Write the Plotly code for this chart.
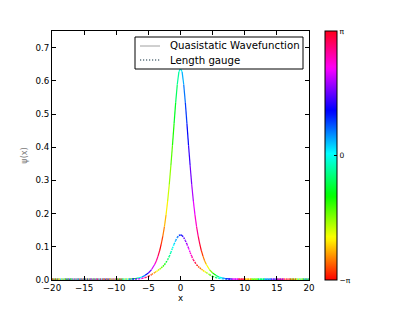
import numpy as np
import plotly.graph_objects as go

# ---- data ----
x_vals = [-20, -19, -18, -17, -16, -15, -14, -13, -12, -11, -10, -9,
          -8, -7.5, -7, -6.5, -6, -5.5, -5, -4.5,
          -4, -3.75, -3.5, -3.25, -3, -2.75, -2.5, -2.25, -2, -1.75, -1.5, -1.25, -1, -0.75, -0.5, -0.25,
          0,
          0.25, 0.5, 0.75, 1, 1.25, 1.5, 1.75, 2, 2.25, 2.5, 2.75, 3, 3.25, 3.5, 3.75, 4,
          4.5, 5, 5.5, 6, 6.5, 7, 7.5, 8,
          9, 10, 11, 12, 13, 14, 15, 16, 17, 18, 19, 20]

quasistatic_amp = [0.0025, 0.0025, 0.0025, 0.0025, 0.0025, 0.0025, 0.0025, 0.0025, 0.0025, 0.0025, 0.0025, 0.0025,
                   0.003, 0.0035, 0.0045, 0.0062, 0.0092, 0.014, 0.021, 0.0315,
                   0.0475, 0.058, 0.072, 0.088, 0.108, 0.132, 0.161, 0.196, 0.238, 0.287, 0.344, 0.406, 0.471, 0.535, 0.589, 0.627,
                   0.637,
                   0.627, 0.589, 0.535, 0.471, 0.406, 0.344, 0.287, 0.238, 0.196, 0.161, 0.132, 0.108, 0.088, 0.072, 0.058, 0.0475,
                   0.0315, 0.021, 0.014, 0.0092, 0.0062, 0.0045, 0.0035, 0.003,
                   0.0025, 0.0025, 0.0025, 0.0025, 0.0025, 0.0025, 0.0025, 0.0025, 0.0025, 0.0025, 0.0025, 0.0025]

quasistatic_phase = [-1.150, -0.150, 0.850, 1.850, 2.850, -2.434, -1.434, -0.434, 0.566, 1.566, 2.566, -2.717,
                     -1.717, -1.217, -0.717, -0.217, 0.283, 0.783, 1.283, 1.783,
                     2.283, 2.533, 2.783, 3.033, -3.0, -2.75, -2.5, -2.25, -2.0, -1.75, -1.5, -1.25, -1.0, -0.75, -0.5, -0.25,
                     0.0,
                     0.25, 0.5, 0.75, 1.0, 1.25, 1.5, 1.75, 2.0, 2.25, 2.5, 2.75, 3.0, -3.033, -2.783, -2.533, -2.283,
                     -1.783, -1.283, -0.783, -0.283, 0.217, 0.717, 1.217, 1.717,
                     2.717, -2.566, -1.566, -0.566, 0.434, 1.434, 2.434, -2.850, -1.850, -0.850, 0.150, 1.150]

length_gauge_amp = [0.0025, 0.0025, 0.0025, 0.0025, 0.0025, 0.0025, 0.0025, 0.0025, 0.0025, 0.0025, 0.0025, 0.0025,
                    0.0026, 0.0028, 0.003, 0.0035, 0.0048, 0.0072, 0.011, 0.0165,
                    0.0225, 0.0255, 0.029, 0.0325, 0.0365, 0.041, 0.046, 0.053, 0.061, 0.071, 0.083, 0.096, 0.108, 0.119, 0.128, 0.134,
                    0.136,
                    0.134, 0.128, 0.119, 0.108, 0.096, 0.083, 0.071, 0.061, 0.053, 0.046, 0.041, 0.0365, 0.0325, 0.029, 0.0255, 0.0225,
                    0.0165, 0.011, 0.0072, 0.0048, 0.0035, 0.003, 0.0028, 0.0026,
                    0.0025, 0.0025, 0.0025, 0.0025, 0.0025, 0.0025, 0.0025, 0.0025, 0.0025, 0.0025, 0.0025, 0.0025]

length_gauge_phase = [2.850, -2.584, -1.734, -0.884, -0.034, 0.816, 1.666, 2.516, -2.917, -2.067, -1.217, -0.367,
                      0.483, 0.908, 1.333, 1.758, 2.183, 2.608, 3.033, -2.825,
                      -2.4, -2.1875, -1.975, -1.7625, -1.55, -1.3375, -1.125, -0.9125, -0.7, -0.4875, -0.275, -0.0625, 0.15, 0.3625, 0.575, 0.7875,
                      1.0,
                      1.2125, 1.425, 1.6375, 1.85, 2.0625, 2.275, 2.4875, 2.7, 2.9125, 3.125, -2.946, -2.733, -2.521, -2.308, -2.096, -1.883,
                      -1.458, -1.033, -0.608, -0.183, 0.242, 0.667, 1.092, 1.517,
                      2.367, -3.066, -2.216, -1.366, -0.516, 0.334, 1.184, 2.034, 2.884, -2.55, -1.70, -0.85]

x_ticks = [-20, -15, -10, -5, 0, 5, 10, 15, 20]
y_ticks = [0.0, 0.1, 0.2, 0.3, 0.4, 0.5, 0.6, 0.7]
legend_labels = ["Quasistatic Wavefunction", "Length gauge"]
cbar_ticktext = ["\u2212\u03c0", "0", "\u03c0"]

# ---- matplotlib 'hsv' colormap anchors ----
HSV_POS = [0.0, 0.158730, 0.174603, 0.333333, 0.349206, 0.507937, 0.666667, 0.682540, 0.841270, 0.857143, 1.0]
HSV_RGB = [(255, 0, 0), (255, 239, 0), (247, 255, 0), (8, 255, 0), (0, 255, 16), (0, 255, 255),
           (0, 16, 255), (0, 0, 255), (239, 0, 255), (255, 0, 239), (255, 0, 24)]
colorscale = [[p, "rgb(%d,%d,%d)" % c] for p, c in zip(HSV_POS, HSV_RGB)]


def phase_color(ph):
    v = (ph + np.pi) / (2 * np.pi)
    v = min(max(v, 0.0), 1.0)
    r = np.interp(v, HSV_POS, [c[0] for c in HSV_RGB])
    g = np.interp(v, HSV_POS, [c[1] for c in HSV_RGB])
    b = np.interp(v, HSV_POS, [c[2] for c in HSV_RGB])
    return "rgb(%d,%d,%d)" % (round(r), round(g), round(b))


def mid_phase(a, b):
    return float(np.arctan2(np.sin(a) + np.sin(b), np.cos(a) + np.cos(b)))


fig = go.Figure()

FONT = "DejaVu Sans"
FS = 8.7

# plot-area geometry in pixels (for placing the hand-made legend)
L, R, T, B = 52, 309, 31, 280


def px_x(p):
    return (p - L) / (R - L)


def px_y(p):
    return (B - p) / (B - T)


def add_colored(xs, amps, phases, dash, width):
    for i in range(len(xs) - 1):
        c = phase_color(mid_phase(phases[i], phases[i + 1]))
        fig.add_trace(go.Scatter(
            x=[xs[i], xs[i + 1]], y=[amps[i], amps[i + 1]], mode="lines",
            line=dict(color=c, width=width, dash=dash),
            showlegend=False, hoverinfo="skip"))


add_colored(x_vals, quasistatic_amp, quasistatic_phase, "solid", 1.2)
add_colored(x_vals, length_gauge_amp, length_gauge_phase, "1.6px,1px", 1.4)

# colorbar carrier
fig.add_trace(go.Scatter(
    x=[None], y=[None], mode="markers", showlegend=False,
    marker=dict(color=[0], colorscale=colorscale, cmin=-np.pi, cmax=np.pi, showscale=True,
                colorbar=dict(x=(325 - L) / (R - L), xanchor="left", xpad=0, ypad=0,
                              y=0.5, yanchor="middle", len=1, lenmode="fraction",
                              thickness=12, thicknessmode="pixels",
                              outlinewidth=1, outlinecolor="black",
                              tickvals=[-np.pi, 0, np.pi], ticktext=cbar_ticktext,
                              ticks="inside", ticklen=3, tickcolor="black",
                              tickfont=dict(family=FONT, size=7.5, color="black")))))

# legend (box, samples, labels)
fig.add_shape(type="rect", xref="paper", yref="paper",
              x0=px_x(135), x1=px_x(303), y0=px_y(69), y1=px_y(37),
              line=dict(color="black", width=1), fillcolor="white", layer="above")
fig.add_shape(type="line", xref="paper", yref="paper",
              x0=px_x(140), x1=px_x(160), y0=px_y(46), y1=px_y(46),
              line=dict(color="#a0a0a0", width=1), layer="above")
fig.add_shape(type="line", xref="paper", yref="paper",
              x0=px_x(140), x1=px_x(160), y0=px_y(60), y1=px_y(60),
              line=dict(color="#103040", width=1.2, dash="1.2px,1.8px"), layer="above")
for lbl, yy in zip(legend_labels, [46, 60]):
    fig.add_annotation(xref="paper", yref="paper", x=px_x(168), y=px_y(yy),
                       xanchor="left", yanchor="middle", showarrow=False, text=lbl,
                       font=dict(family=FONT, size=10.2, color="black"))

axis_common = dict(showline=True, linecolor="black", linewidth=1, mirror="allticks",
                   ticks="inside", ticklen=4, tickcolor="black", showgrid=False, zeroline=False,
                   tickfont=dict(family=FONT, size=FS, color="black"))

fig.update_xaxes(range=[-20, 20], tickvals=x_ticks, ticktext=[("\u2212%d" % -t) if t < 0 else str(t) for t in x_ticks],
                 title=dict(text="x", font=dict(family=FONT, size=FS, color="black"), standoff=0),
                 **axis_common)
fig.update_yaxes(range=[0, 0.75], tickvals=y_ticks, tickformat=".1f",
                 title=dict(text="\u03c8(x)", font=dict(family=FONT, size=8, color="#777777"), standoff=6),
                 **axis_common)

fig.update_layout(
    width=415, height=312, autosize=False,
    margin=dict(l=L, r=415 - R, t=T, b=312 - B),
    paper_bgcolor="white", plot_bgcolor="white",
    font=dict(family=FONT, size=FS, color="black"),
    showlegend=False,
)

fig.write_html("out.html", config={"displayModeBar": False},
               post_script="document.body.style.margin='0px';")
